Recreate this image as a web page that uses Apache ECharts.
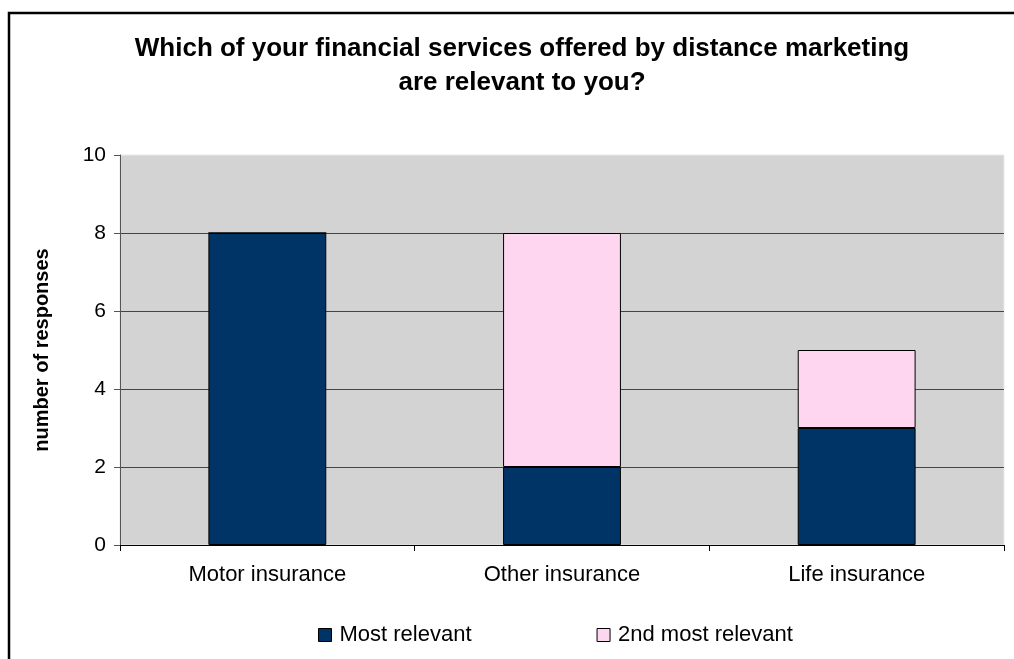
<!DOCTYPE html>
<html>
<head>
<meta charset="utf-8">
<script src="https://cdn.jsdelivr.net/npm/echarts@6/dist/echarts.min.js"></script>
<style>
  html, body { margin: 0; padding: 0; background: #ffffff; }
  #chart { width: 1014px; height: 659px; }
</style>
</head>
<body>
<div id="chart"></div>
<script>
// Survey responses per financial service
const categories = ['Motor insurance', 'Other insurance', 'Life insurance'];
const mostRelevant = [8, 2, 3];
const secondMostRelevant = [0, 6, 2];
const seriesNames = ['Most relevant', '2nd most relevant'];
const yTicks = { min: 0, max: 10, interval: 2 };

const FONT = '"Liberation Sans", Arial, sans-serif';

const chart = echarts.init(document.getElementById('chart'), null, { renderer: 'canvas' });

chart.setOption({
  backgroundColor: '#ffffff',
  animation: false,
  textStyle: { fontFamily: FONT, color: '#000' },
  graphic: [{
    type: 'rect',
    shape: { x: 9, y: 13, width: 1040, height: 700 },
    style: { fill: 'none', stroke: '#000', lineWidth: 2.5 },
    silent: true,
    z: -1
  }],
  title: {
    text: 'Which of your financial services offered by distance marketing\nare relevant to you?',
    left: 522,
    top: 32,
    textAlign: 'center',
    padding: 0,
    textStyle: {
      fontFamily: FONT,
      fontSize: 26,
      fontWeight: 'bold',
      lineHeight: 34,
      color: '#000'
    }
  },
  legend: {
    data: seriesNames,
    left: 318,
    top: 624,
    padding: 0,
    itemWidth: 13,
    itemHeight: 13,
    itemGap: 125,
    icon: 'rect',
    itemStyle: { borderColor: '#000', borderWidth: 1 },
    textStyle: { fontFamily: FONT, fontSize: 22, color: '#000', padding: [0, 0, 0, 3] }
  },
  grid: {
    left: 120,
    right: 10,
    top: 155,
    bottom: 114,
    show: true,
    backgroundColor: '#d3d3d3',
    borderColor: '#e6e9ee',
    borderWidth: 1,
    containLabel: false
  },
  xAxis: {
    type: 'category',
    data: categories,
    axisLine: { show: true, lineStyle: { color: '#000', width: 1 } },
    axisTick: { show: true, alignWithLabel: false, length: 6, lineStyle: { color: '#000' } },
    axisLabel: { fontFamily: FONT, fontSize: 22, color: '#000', margin: 19 },
    splitLine: { show: false }
  },
  yAxis: {
    type: 'value',
    min: yTicks.min,
    max: yTicks.max,
    interval: yTicks.interval,
    name: 'number of responses',
    nameLocation: 'middle',
    nameGap: 68,
    nameTextStyle: { fontFamily: FONT, fontSize: 20, fontWeight: 'bold', color: '#000' },
    axisLine: { show: true, lineStyle: { color: '#555', width: 1 } },
    axisTick: { show: true, length: 6, lineStyle: { color: '#555' } },
    axisLabel: { fontFamily: FONT, fontSize: 21, color: '#000', margin: 14 },
    splitLine: { show: true, showMinLine: false, showMaxLine: false, lineStyle: { color: '#444', width: 1 } }
  },
  series: [
    {
      name: seriesNames[0],
      type: 'bar',
      stack: 'total',
      barWidth: '40%',
      data: mostRelevant,
      itemStyle: { color: '#003366', borderColor: '#000', borderWidth: 1 }
    },
    {
      name: seriesNames[1],
      type: 'bar',
      stack: 'total',
      barWidth: '40%',
      data: secondMostRelevant,
      itemStyle: { color: '#ffd6ef', borderColor: '#000', borderWidth: 1 }
    }
  ]
});
</script>
</body>
</html>
